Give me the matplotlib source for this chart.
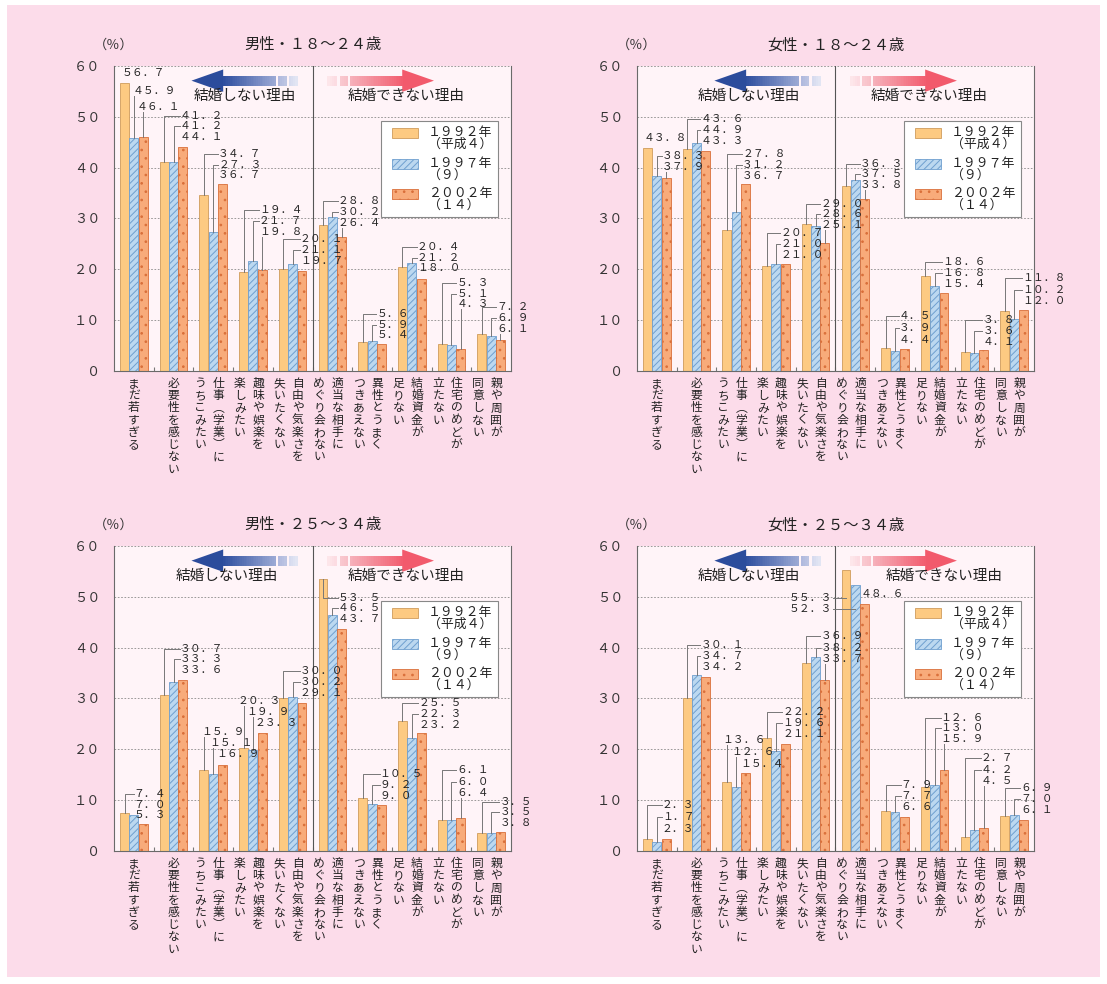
import numpy as np
import matplotlib.pyplot as plt
from matplotlib.patches import Rectangle, Polygon
import matplotlib.transforms as mtransforms
from matplotlib.colors import to_rgb

plt.rcParams['font.family'] = ['Noto Sans CJK JP', 'DejaVu Sans']
plt.rcParams['hatch.linewidth'] = 0.7

# 理由（縦書きラベル、\n で列を分ける）
reasons = ['まだ若すぎる', '必要性を感じない', '仕事（学業）に\nうちこみたい',
           '趣味や娯楽を\n楽しみたい', '自由や気楽さを\n失いたくない',
           '適当な相手に\nめぐり会わない', '異性とうまく\nつきあえない',
           '結婚資金が\n足りない', '住宅のめどが\n立たない', '親や周囲が\n同意しない']
years = ['1992年\n(平成4)', '1997年\n(9)', '2002年\n(14)']
titles = ['男性・18〜24歳', '女性・18〜24歳', '男性・25〜34歳', '女性・25〜34歳']

m18_92 = [56.7, 41.2, 34.7, 19.4, 20.1, 28.8, 5.6, 20.4, 5.3, 7.2]
m18_97 = [45.9, 41.2, 27.3, 21.7, 21.1, 30.2, 5.9, 21.2, 5.1, 6.9]
m18_02 = [46.1, 44.1, 36.7, 19.8, 19.7, 26.4, 5.4, 18.0, 4.3, 6.1]

f18_92 = [43.8, 43.6, 27.8, 20.7, 29.0, 36.3, 4.5, 18.6, 3.8, 11.8]
f18_97 = [38.3, 44.9, 31.2, 21.0, 28.6, 37.5, 3.9, 16.8, 3.6, 10.2]
f18_02 = [37.9, 43.3, 36.7, 21.0, 25.1, 33.8, 4.4, 15.4, 4.1, 12.0]

m25_92 = [7.4, 30.7, 15.9, 20.3, 30.0, 53.5, 10.5, 25.5, 6.1, 3.5]
m25_97 = [7.0, 33.3, 15.1, 19.9, 30.2, 46.5, 9.2, 22.3, 6.0, 3.5]
m25_02 = [5.3, 33.6, 16.9, 23.3, 29.1, 43.7, 9.0, 23.2, 6.4, 3.8]

f25_92 = [2.3, 30.1, 13.6, 22.2, 36.9, 55.3, 7.9, 12.6, 2.7, 6.9]
f25_97 = [1.7, 34.7, 12.6, 19.6, 38.2, 52.3, 7.7, 13.0, 4.2, 7.0]
f25_02 = [2.3, 34.2, 15.4, 21.1, 33.7, 48.6, 6.6, 15.9, 4.5, 6.1]

panels = [(m18_92, m18_97, m18_02), (f18_92, f18_97, f18_02),
          (m25_92, m25_97, m25_02), (f25_92, f25_97, f25_02)]


def stack(dx, y0, stag=0.0, step=2.1):
    # 数値ラベルの位置 (上から1992, 1997, 2002)
    return [(dx - 2 * stag, y0 + 2 * step), (dx - stag, y0 + step), (dx, y0)]


label_pos = [
    [[(-0.32, 58.7), (-0.04, 55.1), (0.08, 51.9)], stack(0.15, 46.0), stack(0.12, 38.5),
     stack(0.15, 27.4), stack(0.18, 21.7), stack(0.14, 29.2), stack(0.11, 7.0),
     stack(0.13, 20.2), stack(0.12, 13.1), stack(0.13, 8.3)],
    [[(-0.33, 45.8), (0.13, 42.2), (0.13, 40.2)], stack(0.10, 45.3), stack(0.15, 38.4),
     stack(0.11, 22.8, step=2.2), stack(0.12, 28.7), stack(0.11, 36.6), stack(0.10, 6.0, step=2.4),
     stack(0.19, 17.2), stack(0.2, 5.7, step=2.2), stack(0.2, 13.8, step=2.2)],
    [stack(0.0, 7.0), stack(0.15, 35.6), stack(0.08, 19.0, 0.19, 2.2),
     stack(0.04, 25.1, 0.21, 2.2), stack(0.18, 31.1), stack(0.14, 45.6), stack(0.19, 10.8, step=2.2),
     stack(0.16, 24.8, step=2.2), stack(0.12, 11.4, step=2.25), stack(0.21, 5.5)],
    [stack(0.13, 4.4, step=2.3), stack(0.10, 36.2, step=2.15), stack(0.10, 17.2, 0.23, 2.3),
     stack(0.16, 23.0, step=2.2), stack(0.12, 37.7, step=2.25),
     [(-0.58, 49.7, 'l'), (-0.58, 47.6, 'l'), (0.13, 50.6)],
     stack(0.14, 8.7), stack(0.15, 22.1, step=2.0), stack(0.16, 13.8, step=2.2), stack(0.16, 8.1)],
]
arrow_text_x = [(2.8, 6.85), (2.33, 6.87), (2.34, 6.85), (2.33, 7.25)]

FW = str.maketrans('0123456789.()%', '０１２３４５６７８９．（）％')
VERT = str.maketrans({'（': '︵', '）': '︶'})


def fw(s):
    return s.translate(FW)


pink = '#fcdcea'
axbg = '#fff4f8'
offs = [-0.235, 0.0, 0.235]
bw = 0.225
bar_styles = [
    dict(facecolor='#fdca82', edgecolor='#cf9c5c', linewidth=0.6),
    dict(facecolor='#bcd8f0', edgecolor='#6f9fcf', linewidth=0.6, hatch='/////'),
    dict(facecolor='#f8ab7a', edgecolor='#d96f3a', linewidth=0.6, hatch='..'),
]
line_c = '#777777'
txt_c = '#222222'


def grad_strip(ax, x0, x1, y, h, c0, c1, n=30):
    c0, c1 = np.array(to_rgb(c0)), np.array(to_rgb(c1))
    edges = np.linspace(x0, x1, n + 1)
    for k in range(n):
        t = k / max(n - 1, 1)
        ax.add_patch(Rectangle((edges[k], y - h), edges[k + 1] - edges[k] + 0.005, 2 * h,
                               facecolor=c0 + (c1 - c0) * t, edgecolor='none', zorder=3))


def draw_arrows(ax):
    y, bh, hh, hl = 57.1, 1.0, 2.2, 0.8
    # 青（左向き）
    tip = 1.45
    ax.add_patch(Polygon([(tip, y), (tip + hl, y + hh), (tip + hl, y - hh)],
                         facecolor='#2c4c9c', edgecolor='none', zorder=3))
    grad_strip(ax, tip + hl - 0.01, 3.57, y, bh, '#2f4f9f', '#9aa8d4')
    grad_strip(ax, 3.63, 3.84, y, bh, '#b0b9de', '#bcc4e2', n=4)
    grad_strip(ax, 3.90, 4.12, y, bh, '#d6dbef', '#e2e5f3', n=4)
    # 赤（右向き）
    tip = 7.56
    ax.add_patch(Polygon([(tip, y), (tip - hl, y + hh), (tip - hl, y - hh)],
                         facecolor='#f25a6c', edgecolor='none', zorder=3))
    grad_strip(ax, 5.44, tip - hl + 0.01, y, bh, '#f6b0ba', '#f25e70')
    grad_strip(ax, 5.18, 5.39, y, bh, '#f9c8cf', '#f8c0c8', n=4)
    grad_strip(ax, 4.87, 5.11, y, bh, '#fde6ea', '#fcdce2', n=4)


fig = plt.figure(figsize=(11.07, 9.84), dpi=100, facecolor='white')
fig.add_artist(Rectangle((7 / 1107, 7 / 984), 1093 / 1107, 972 / 984, transform=fig.transFigure,
                         facecolor=pink, edgecolor='none', zorder=-10))

ax_rects = [(0.103, 0.623), (0.5754, 0.623), (0.103, 0.1352), (0.5754, 0.1352)]
x = np.arange(len(reasons))

for p, (vals, (l, b)) in enumerate(zip(panels, ax_rects)):
    ax = fig.add_axes([l, b, 0.3586, 0.310])
    ax.set_facecolor(axbg)
    ax.set_xlim(-0.5, 9.5)
    ax.set_ylim(0, 60)

    for i in range(3):
        ax.bar(x + offs[i], vals[i], bw, zorder=2, **bar_styles[i])

    ax.set_yticks(np.arange(0, 61, 10))
    ax.set_yticklabels([fw(str(v)) for v in range(0, 61, 10)], fontsize=9.5, color='#333333')
    ax.tick_params(axis='y', length=0, pad=10)
    ax.set_xticks(np.arange(0.5, 9, 1))
    ax.set_xticklabels([])
    ax.tick_params(axis='x', direction='in', length=3, color='#777777')
    ax.yaxis.grid(True, color='#8a8a8a', linewidth=0.6, linestyle=(0, (2, 2)), zorder=1)
    ax.set_axisbelow(True)
    ax.spines['top'].set_visible(False)
    for s in ['left', 'right', 'bottom']:
        ax.spines[s].set_color('#6a6a6a')
        ax.spines[s].set_linewidth(0.8)
    ax.axvline(4.5, color='#555555', linewidth=0.8, zorder=2)

    # 数値ラベルと引き出し線
    for g in range(10):
        for i in range(3):
            spec = label_pos[p][g][i]
            lx, ly = g + spec[0], spec[1]
            side = spec[2] if len(spec) > 2 else 'r'
            bx, v = g + offs[i], vals[i][g]
            txt = fw(f'{v:.1f}')
            if side == 'l':
                ax.text(lx, ly, txt, ha='right', va='center', fontsize=7.8, color=txt_c, zorder=6)
                ax.plot([lx + 0.02, bx], [ly, ly], color=line_c, lw=0.7, zorder=5)
            else:
                ax.text(lx, ly, txt, ha='left', va='center', fontsize=7.8, color=txt_c, zorder=6)
                if lx > bx + 0.03:
                    ax.plot([bx, bx, lx], [v, ly, ly], color=line_c, lw=0.7, zorder=5)
                elif ly - v > 2.2:
                    ax.plot([bx, bx], [v, ly - 1.0], color=line_c, lw=0.7, zorder=5)

    draw_arrows(ax)
    tl, tr = arrow_text_x[p]
    ax.text(tl, 54.0, '結婚しない理由', ha='center', va='center', fontsize=10.5, color=txt_c, zorder=6)
    ax.text(tr, 54.0, '結婚できない理由', ha='center', va='center', fontsize=10.5, color=txt_c, zorder=6)

    # 凡例
    ax.add_patch(Rectangle((0.672, 0.504), 0.295, 0.316, transform=ax.transAxes,
                           facecolor='white', edgecolor='#888888', linewidth=0.8, zorder=7))
    for i, yc in enumerate([0.779, 0.679, 0.580]):
        ax.add_patch(Rectangle((0.6995, yc - 0.016), 0.067, 0.032, transform=ax.transAxes,
                               zorder=8, **bar_styles[i]))
        ax.text(0.79, yc + 0.024, fw(years[i]), transform=ax.transAxes, ha='left', va='top',
                fontsize=9.3, linespacing=0.88, color=txt_c, zorder=8)

    ax.text(-0.05, 1.069, fw('(%)'), transform=ax.transAxes, ha='left', va='center',
            fontsize=9.5, color='#333333')
    ax.text(0.5, 1.069, fw(titles[p]), transform=ax.transAxes, ha='center', va='center',
            fontsize=11, color=txt_c)

    # 縦書きの項目名
    trans = mtransforms.blended_transform_factory(ax.transData, ax.transAxes)
    for g, r in enumerate(reasons):
        cols = r.split('\n')
        xs = [g] if len(cols) == 1 else [g + 0.13, g - 0.33]
        for cx, col in zip(xs, cols):
            ax.text(cx, -0.02, '\n'.join(col.translate(VERT)), transform=trans,
                    ha='center', va='top', fontsize=8.5, linespacing=0.92, color=txt_c)

fig.savefig('out.png', dpi=100, facecolor='white')
